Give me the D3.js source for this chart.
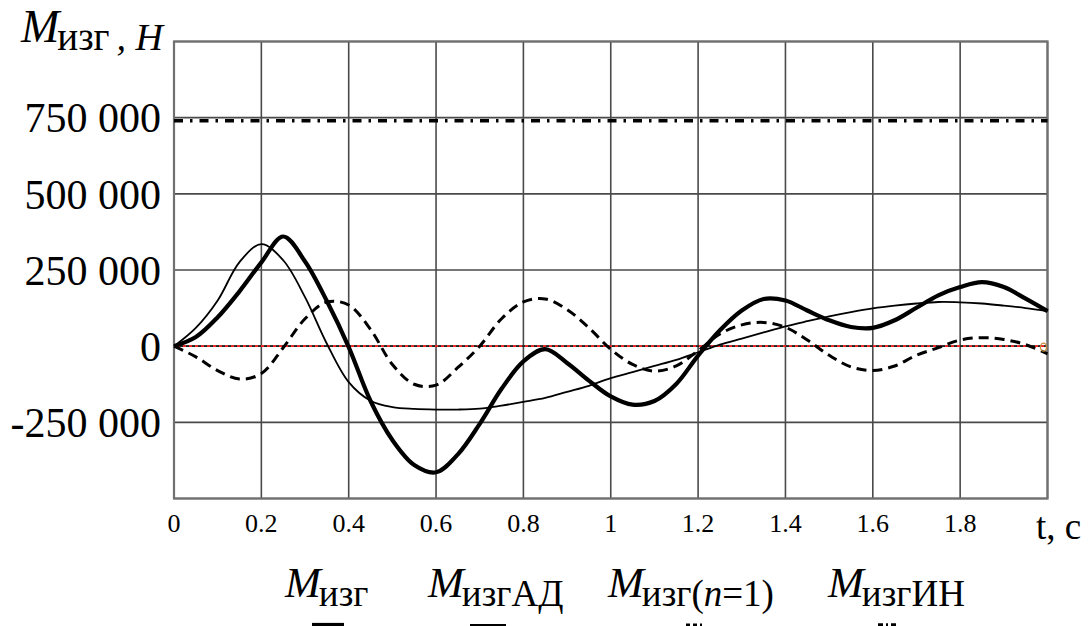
<!DOCTYPE html>
<html>
<head>
<meta charset="utf-8">
<script src="https://cdn.jsdelivr.net/npm/d3@7"></script>
<style>
  body { margin: 0; background: #fff; }
  text { font-family: "Liberation Serif", "DejaVu Serif", serif; fill: #000; }
</style>
</head>
<body>
<svg id="chart" width="1090" height="626"></svg>
<script>
// Time samples, s
const tValues = [0, 0.05, 0.1, 0.15, 0.2, 0.25, 0.3, 0.35, 0.4, 0.45, 0.5, 0.55, 0.6, 0.65, 0.7, 0.75, 0.8, 0.85, 0.9, 0.95,
  1.0, 1.05, 1.1, 1.15, 1.2, 1.25, 1.3, 1.35, 1.4, 1.45, 1.5, 1.55, 1.6, 1.65, 1.7, 1.75, 1.8, 1.85, 1.9, 1.95, 2.0];

// Bending moment, total (thick line)
const bendTotal = [0, 30000, 95000, 180000, 275000, 360000, 278000, 148000, -3000, -180000, -308000, -390000, -414000,
  -355000, -255000, -140000, -50000, -10000, -55000, -113000, -165000, -192000, -180000, -124000, -31000, 52000,
  117000, 155000, 150000, 117000, 85000, 63000, 60000, 85000, 126000, 167000, 194000, 210000, 194000, 156000, 115000];

// Bending moment, АД component (thin line)
const bendAD = [0, 60000, 150000, 276000, 335000, 282000, 161000, 8000, -118000, -179000, -200000, -206000, -208000,
  -208000, -205000, -195000, -183000, -170000, -150000, -130000, -105000, -85000, -65000, -45000, -20000, 5000,
  25000, 45000, 65000, 82000, 98000, 112000, 124000, 133000, 140000, 145000, 144000, 140000, 133000, 125000, 115000];

// Bending moment, first mode n = 1 (dashed line)
const bendN1 = [0, -35000, -80000, -108000, -90000, -5000, 90000, 145000, 135000, 55000, -60000, -125000, -128000,
  -70000, 0, 90000, 145000, 155000, 120000, 60000, -10000, -60000, -82000, -65000, -15000, 40000,
  70000, 78000, 62000, 20000, -30000, -68000, -80000, -65000, -30000, -5000, 20000, 28000, 22000, 5000, -25000];

// Bending moment, ИН (constant level, dash-dot line)
const bendIN = [740000, 740000];
const bendINTime = [0, 2];

const xTicks = [0, 0.2, 0.4, 0.6, 0.8, 1, 1.2, 1.4, 1.6, 1.8];
const xGrid = [0, 0.2, 0.4, 0.6, 0.8, 1, 1.2, 1.4, 1.6, 1.8, 2];
const yTicks = [-250000, 0, 250000, 500000, 750000];
const yGrid = [-500000, -250000, 0, 250000, 500000, 750000, 1000000];

const svg = d3.select("#chart");

const x = d3.scaleLinear().domain([0, 2]).range([174, 1047.5]);
const y = d3.scaleLinear().domain([-500000, 1000000]).range([498.5, 41.5]);

// grid
const grid = svg.append("g").attr("stroke", "#4a4a4a").attr("stroke-width", 1.6);
grid.selectAll("line.v").data(xGrid).join("line")
  .attr("x1", d => x(d)).attr("x2", d => x(d))
  .attr("y1", y(1000000)).attr("y2", y(-500000));
grid.selectAll("line.h").data(yGrid).join("line")
  .attr("x1", x(0)).attr("x2", x(2))
  .attr("y1", d => y(d)).attr("y2", d => y(d));

// zero reference line: red/black fine dashes
svg.append("line").attr("x1", x(0)).attr("x2", x(2)).attr("y1", y(0)).attr("y2", y(0))
  .attr("stroke", "#222").attr("stroke-width", 1.6).attr("stroke-dasharray", "3,3");
svg.append("line").attr("x1", x(0)).attr("x2", x(2)).attr("y1", y(0)).attr("y2", y(0))
  .attr("stroke", "#ff2020").attr("stroke-width", 1.6).attr("stroke-dasharray", "3,3")
  .attr("stroke-dashoffset", 3);

// border
svg.append("rect").attr("x", x(0)).attr("y", y(1000000))
  .attr("width", x(2) - x(0)).attr("height", y(-500000) - y(1000000))
  .attr("fill", "none").attr("stroke", "#707070").attr("stroke-width", 2.2);

const line = d3.line()
  .x((d, i) => x(tValues[i]))
  .y(d => y(d))
  .curve(d3.curveCatmullRom.alpha(0.5));

svg.append("path").datum(bendAD).attr("d", line)
  .attr("fill", "none").attr("stroke", "#000").attr("stroke-width", 1.8);

svg.append("path").datum(bendN1).attr("d", line)
  .attr("fill", "none").attr("stroke", "#000").attr("stroke-width", 3)
  .attr("stroke-dasharray", "10,6");

svg.append("path").datum(bendTotal).attr("d", line)
  .attr("fill", "none").attr("stroke", "#000").attr("stroke-width", 4.2)
  .attr("stroke-linejoin", "round");

const lineIN = d3.line().x((d, i) => x(bendINTime[i])).y(d => y(d));
svg.append("path").datum(bendIN).attr("d", lineIN)
  .attr("fill", "none").attr("stroke", "#000").attr("stroke-width", 3.6)
  .attr("stroke-dasharray", "9,7,2.5,7");

// small trace marker at the end of the dashed line
svg.append("ellipse").attr("cx", x(2) - 4).attr("cy", y(0) + 1).attr("rx", 3).attr("ry", 4)
  .attr("fill", "none").attr("stroke", "#c98a3a").attr("stroke-width", 1.3);

// y tick labels (plain hyphen for negatives, space as thousands separator)
const fmtY = v => d3.format(",")(Math.abs(v)).replace(/,/g, " ");
svg.append("g").selectAll("text").data(yTicks).join("text")
  .attr("x", 161).attr("y", d => y(d)).attr("dy", "0.35em")
  .attr("text-anchor", "end").attr("font-size", 42)
  .text(d => (d < 0 ? "-" : "") + fmtY(d));

// x tick labels
svg.append("g").selectAll("text").data(xTicks).join("text")
  .attr("x", d => x(d)).attr("y", 532)
  .attr("text-anchor", "middle").attr("font-size", 26)
  .text(d => d3.format("")(d));

// x axis title
svg.append("text").attr("x", 1036).attr("y", 539).attr("font-size", 37).text("t, c");

// y axis title
const yt = svg.append("text").attr("x", 21).attr("y", 42);
yt.append("tspan").attr("font-style", "italic").attr("font-size", 46).text("M");
yt.append("tspan").attr("font-size", 39).attr("dy", 8).attr("dx", -2).text("изг");
yt.append("tspan").attr("font-size", 38).attr("font-style", "italic").attr("dx", 7).text(", H");

// legend
const legendItems = [
  { sub: "изг", x: 285, w: 4.2, dash: null, sx: 312, sl: 32 },
  { sub: "изгАД", x: 428, w: 2.2, dash: null, sx: 470, sl: 36 },
  { sub: "изг(", tail: true, x: 608, w: 3, dash: "4,3", sx: 686, sl: 16 },
  { sub: "изгИН", x: 828, w: 3.6, dash: "5,3,2,3", sx: 878, sl: 18 }
];
legendItems.forEach(it => {
  const t = svg.append("text").attr("x", it.x).attr("y", 597);
  t.append("tspan").attr("font-style", "italic").attr("font-size", 43).text("M");
  if (it.tail) {
    t.append("tspan").attr("font-size", 37).attr("dy", 9).attr("dx", -2).text("изг(");
    t.append("tspan").attr("font-size", 37).attr("font-style", "italic").text("n");
    t.append("tspan").attr("font-size", 37).text("=1)");
  } else {
    t.append("tspan").attr("font-size", 37).attr("dy", 9).attr("dx", -2).text(it.sub);
  }
  const l = svg.append("line").attr("x1", it.sx).attr("x2", it.sx + it.sl)
    .attr("y1", 625).attr("y2", 625)
    .attr("stroke", "#000").attr("stroke-width", it.w);
  if (it.dash) l.attr("stroke-dasharray", it.dash);
});
</script>
</body>
</html>
